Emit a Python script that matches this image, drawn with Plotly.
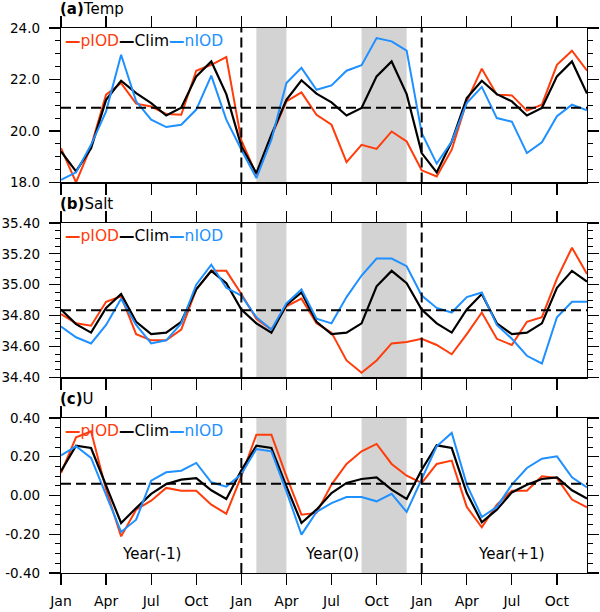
import plotly.graph_objects as go

# ---------------- data ----------------
months = list(range(36))
tick_vals = list(range(0, 36, 3))
tick_text = ["Jan", "Apr", "Jul", "Oct"] * 3

temp_pIOD = [19.33, 18.0, 19.4, 21.41, 21.86, 21.06, 20.95, 20.66, 20.63, 22.34, 22.57, 22.87,
             19.63, 18.3, 19.79, 21.15, 21.5, 20.63, 20.24, 18.79, 19.46, 19.3, 19.98, 19.59,
             18.47, 18.23, 19.27, 21.15, 22.42, 21.41, 21.38, 20.79, 21.02, 22.57, 23.12, 22.34]
temp_clim = [19.2, 18.43, 19.33, 21.21, 21.95, 21.47, 21.08, 20.6, 20.9, 22.12, 22.7, 21.43,
             19.4, 18.36, 19.85, 21.21, 21.97, 21.45, 21.11, 20.6, 20.89, 22.12, 22.7, 21.43,
             19.14, 18.39, 19.59, 21.28, 21.95, 21.43, 21.15, 20.6, 20.89, 22.12, 22.7, 21.45]
temp_nIOD = [18.1, 18.39, 19.46, 20.76, 22.96, 21.15, 20.44, 20.15, 20.24, 20.83, 22.15, 20.44,
             19.27, 18.17, 19.66, 21.86, 22.45, 21.6, 21.77, 22.34, 22.55, 23.61, 23.48, 23.12,
             19.92, 18.73, 19.59, 21.08, 21.71, 20.5, 20.36, 19.14, 19.56, 20.57, 21.02, 20.8]

salt_pIOD = [34.81, 34.75, 34.735, 34.89, 34.925, 34.68, 34.64, 34.64, 34.71, 34.97, 35.09, 35.09,
             34.94, 34.78, 34.71, 34.86, 34.91, 34.75, 34.69, 34.51, 34.43, 34.51, 34.62, 34.63,
             34.65, 34.61, 34.55, 34.68, 34.82, 34.65, 34.61, 34.76, 34.79, 35.04, 35.24, 35.07]
salt_clim = [34.84, 34.745, 34.69, 34.85, 34.94, 34.76, 34.68, 34.69, 34.76, 34.97, 35.09, 35.01,
             34.84, 34.75, 34.69, 34.87, 34.95, 34.76, 34.68, 34.69, 34.75, 34.99, 35.09, 35.01,
             34.84, 34.75, 34.69, 34.84, 34.94, 34.75, 34.68, 34.69, 34.75, 34.98, 35.09, 35.02]
salt_nIOD = [34.73, 34.66, 34.62, 34.74, 34.91, 34.74, 34.62, 34.64, 34.75, 35.0, 35.13, 34.98,
             34.93, 34.79, 34.71, 34.88, 34.97, 34.78, 34.75, 34.92, 35.06, 35.17, 35.17, 35.12,
             34.93, 34.85, 34.82, 34.92, 34.95, 34.74, 34.65, 34.54, 34.49, 34.79, 34.89, 34.89]

u_pIOD = [0.116, 0.30, 0.331, 0.03, -0.211, -0.073, -0.027, 0.039, 0.025, 0.025, -0.047, -0.094,
          0.10, 0.314, 0.314, 0.099, -0.099, -0.09, 0.056, 0.163, 0.228, 0.266, 0.163, 0.102,
          0.065, 0.163, 0.18, -0.059, -0.164, -0.047, 0.025, 0.025, 0.099, 0.09, -0.021, -0.061]
u_clim = [0.125, 0.257, 0.245, 0.05, -0.142, -0.065, 0.008, 0.059, 0.082, 0.09, 0.027, -0.018,
          0.13, 0.257, 0.245, 0.047, -0.142, -0.073, 0.013, 0.065, 0.085, 0.094, 0.03, -0.018,
          0.133, 0.259, 0.245, 0.013, -0.138, -0.073, 0.016, 0.056, 0.085, 0.094, 0.027, -0.016]
u_nIOD = [0.207, 0.254, 0.194, 0.0, -0.188, -0.125, 0.077, 0.12, 0.128, 0.168, 0.068, 0.046,
          0.11, 0.24, 0.228, 0.021, -0.202, -0.085, -0.039, -0.008, -0.008, -0.03, 0.009, -0.085,
          0.082, 0.254, 0.323, 0.056, -0.111, -0.059, 0.056, 0.142, 0.19, 0.202, 0.094, 0.042]

ref_means = [20.9, 34.835, 0.06]
year_bounds = [12, 24]
shade_spans = [(13, 15), (20, 23)]
year_labels = ["Year(-1)", "Year(0)", "Year(+1)"]
year_label_x = [6, 18, 30]
year_label_y = -0.30

series_names = ["pIOD", "Clim", "nIOD"]
colors = ["#FF3C0A", "#000000", "#1E90FF"]

panels = [
    dict(title="<b>(a)</b>Temp", data=[temp_pIOD, temp_clim, temp_nIOD],
         yrange=[18, 24], ytickvals=[18, 20, 22, 24],
         yticktext=["18.0", "20.0", "22.0", "24.0"], minor=0.5, tick0=18),
    dict(title="<b>(b)</b>Salt", data=[salt_pIOD, salt_clim, salt_nIOD],
         yrange=[34.4, 35.4], ytickvals=[34.4, 34.6, 34.8, 35.0, 35.2, 35.4],
         yticktext=["34.40", "34.60", "34.80", "35.00", "35.20", "35.40"], minor=0.05, tick0=34.4),
    dict(title="<b>(c)</b>U", data=[u_pIOD, u_clim, u_nIOD],
         yrange=[-0.4, 0.4], ytickvals=[-0.4, -0.2, 0.0, 0.2, 0.4],
         yticktext=["-0.40", "-0.20", "0.00", "0.20", "0.40"], minor=0.05, tick0=-0.4),
]

domains = [[0.7167, 1.0], [0.3589, 0.6422], [0.0, 0.2844]]

FONT = "DejaVu Sans"
fig = go.Figure()
shapes = []
annotations = []

for k, p in enumerate(panels):
    sfx = "" if k == 0 else str(k + 1)
    xa, ya = "x" + sfx, "y" + sfx
    for name, vals, col in zip(series_names, p["data"], colors):
        fig.add_trace(go.Scatter(x=months, y=vals, mode="lines", name=name,
                                 line=dict(color=col, width=2.2 if col == "#000000" else 2),
                                 xaxis=xa, yaxis=ya, showlegend=False, hoverinfo="skip"))
    fig.layout["xaxis" + sfx] = dict(
        domain=[0, 1], anchor=ya, range=[0, 35], tickmode="array", automargin=False,
        tickvals=tick_vals, ticktext=tick_text, showticklabels=(k == 2),
        ticks="outside", ticklen=11, tickwidth=1.2, tickcolor="black", ticklabelstandoff=4,
        showline=True, linecolor="black", linewidth=1.2, mirror="allticks",
        showgrid=False, zeroline=False, tickfont=dict(family=FONT, size=14, color="black"))
    fig.layout["yaxis" + sfx] = dict(
        domain=domains[k], anchor=xa, range=p["yrange"], tickmode="array", automargin=False,
        tickvals=p["ytickvals"], ticktext=p["yticktext"], ticklabelstandoff=6,
        ticks="outside", ticklen=11, tickwidth=1.2, tickcolor="black",
        minor=dict(tickmode="linear", tick0=p["tick0"], dtick=p["minor"], ticks="outside",
                   ticklen=5, tickwidth=1, tickcolor="black", showgrid=False),
        showline=True, linecolor="black", linewidth=1.2, mirror="allticks",
        showgrid=False, zeroline=False, tickfont=dict(family=FONT, size=13.5, color="black"))
    # shading
    for s0, s1 in shade_spans:
        shapes.append(dict(type="rect", xref=xa, yref=ya + " domain", x0=s0, x1=s1, y0=0, y1=1,
                           fillcolor="#D3D3D3", line=dict(width=0), layer="below"))
    # horizontal mean line
    shapes.append(dict(type="line", xref=xa + " domain", yref=ya, x0=0, x1=1,
                       y0=ref_means[k], y1=ref_means[k],
                       line=dict(color="black", width=2, dash="10px,5px"), layer="above"))
    for xb in year_bounds:
        shapes.append(dict(type="line", xref=xa, yref=ya + " domain", x0=xb, x1=xb, y0=0, y1=1,
                           line=dict(color="black", width=2, dash="10px,5px"), layer="above"))
    # title
    annotations.append(dict(text=p["title"], xref=xa + " domain", yref=ya + " domain",
                            x=0, y=1, xanchor="left", yanchor="middle", xshift=-3, yshift=19,
                            showarrow=False, font=dict(family=FONT, size=15, color="black")))
    # legend text
    legend_txt = "".join(f"<span style='color:{c}'><b>\u2014</b>{n}</span>"
                         for n, c in zip(series_names, colors))
    annotations.append(dict(text=legend_txt, xref=xa + " domain", yref=ya + " domain",
                            x=0, y=1, xanchor="left", yanchor="middle", xshift=2, yshift=-12.5,
                            showarrow=False, font=dict(family=FONT, size=15.5, color="black")))

for lab, lx in zip(year_labels, year_label_x):
    annotations.append(dict(text=lab, x=lx, y=year_label_y, xref="x3", yref="y3",
                            showarrow=False, font=dict(family=FONT, size=15, color="black")))

fig.update_layout(width=600, height=612, margin=dict(l=61, r=13, t=28, b=39),
                  paper_bgcolor="white", plot_bgcolor="white", hovermode=False,
                  shapes=shapes, annotations=annotations, showlegend=False)

fig.write_html("out.html", config={"displayModeBar": False, "staticPlot": True},
               post_script="document.body.style.margin='0';document.body.style.overflow='hidden';")
